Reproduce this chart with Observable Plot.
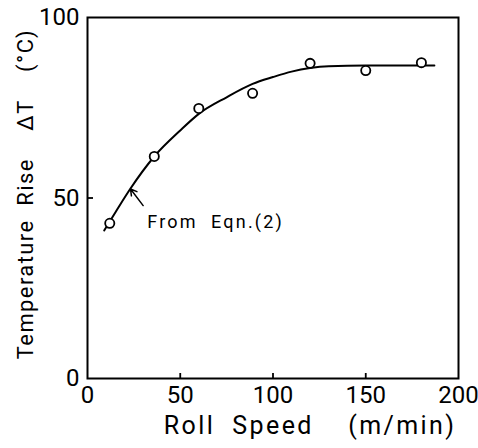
<!DOCTYPE html>
<html><head><meta charset="utf-8">
<script src="https://cdn.jsdelivr.net/npm/d3@7"></script>
<script src="https://cdn.jsdelivr.net/npm/@observablehq/plot@0.6"></script>
<style>
body{margin:0;background:#fff}
.annot text{letter-spacing:2.2px}
.xlab text{letter-spacing:2.4px}
.ylab text{letter-spacing:1.4px}
</style>
</head><body><div id="chart"></div>
<script>
// measured points
const speed = [12, 36, 60, 89, 120, 150, 180];
const rise = [43, 61.5, 74.8, 79, 87.3, 85.3, 87.5];
// curve "From Eqn.(2)"
const curveSpeed = [9, 15, 23, 36, 50, 60, 75, 89, 100, 110, 120, 130, 150, 187];
const curveRise = [41, 46, 52.5, 61.5, 68.7, 73.3, 77.9, 81.6, 83.5, 85, 86, 86.5, 86.7, 86.7];
const xTicks = [0, 50, 100, 150, 200];
const yTicks = [0, 50, 100];
const xInnerTicks = [50, 100, 150];
const yInnerTicks = [50];
const annotText = ["From\u00A0\u00A0Eqn.(2)"];
const annotArrow = {x1: 30, y1: 47.9, x2: 23.2, y2: 52.5};
const annotPos = {x: 32.2, y: 43.3};
const xLabel = "Roll\u00A0\u00A0Speed\u00A0\u00A0\u00A0\u00A0(m/min)";
const yLabel = "Temperature\u00A0\u00A0Rise\u00A0\u00A0\u00A0\u00A0ΔT\u00A0\u00A0\u00A0\u00A0(°C)";

const pts = speed.map((s, i) => ({s, r: rise[i]}));
const curve = curveSpeed.map((s, i) => ({s, r: curveRise[i]}));

const chart = Plot.plot({
  width: 478,
  height: 448,
  marginLeft: 87,
  marginRight: 20,
  marginTop: 17,
  marginBottom: 70,
  style: {fontFamily: "Roboto, sans-serif", color: "#000", background: "#fff"},
  x: {domain: [0, 200]},
  y: {domain: [0, 100]},
  marks: [
    Plot.frame({stroke: "#000", strokeWidth: 2}),
    Plot.axisX(xInnerTicks, {tickSize: -5, strokeWidth: 1.8, text: null, label: null}),
    Plot.axisY(yInnerTicks, {tickSize: -6, strokeWidth: 1.8, text: null, label: null}),
    Plot.axisX(xTicks, {tickSize: 0, tickPadding: 7, fontSize: 24, label: null}),
    Plot.axisY(yTicks, {tickSize: 0, tickPadding: 8, fontSize: 24, label: null}),
    Plot.line(curve, {x: "s", y: "r", curve: "monotone-x", stroke: "#000", strokeWidth: 2}),
    Plot.dot(pts, {x: "s", y: "r", r: 4.6, stroke: "#000", strokeWidth: 1.8, fill: "#fff"}),
    Plot.arrow([annotArrow], {x1: "x1", y1: "y1", x2: "x2", y2: "y2", stroke: "#000", strokeWidth: 1.5, headLength: 9}),
    Plot.text(annotText, {x: () => annotPos.x, y: () => annotPos.y, text: d => d, textAnchor: "start", fontSize: 18, fill: "#000", className: "annot"}),
    Plot.text([xLabel], {frameAnchor: "bottom", textAnchor: "middle", dx: 37, dy: 55, text: d => d, fontSize: 25, fill: "#000", className: "xlab"}),
    Plot.text([yLabel], {frameAnchor: "left", textAnchor: "middle", dx: -62, dy: -4, rotate: -90, text: d => d, fontSize: 22, fill: "#000", className: "ylab"})
  ]
});
document.getElementById("chart").appendChild(chart);
</script>
</body></html>
